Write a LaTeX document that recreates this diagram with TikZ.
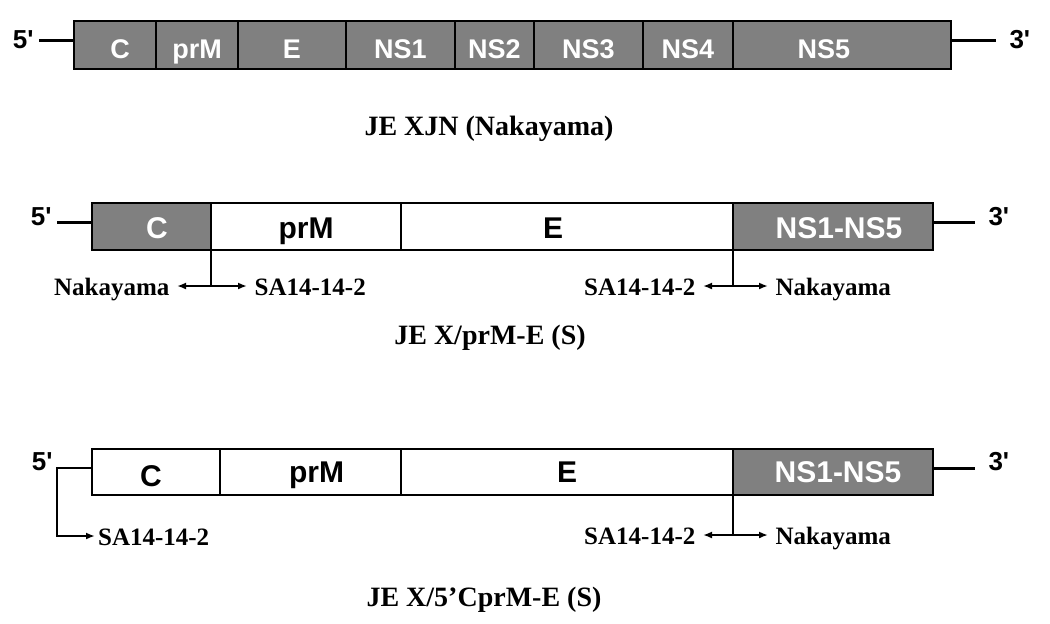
\documentclass[tikz,border=0pt]{standalone}
\usepackage{fontspec}
\setmainfont{Liberation Serif}
\setsansfont{Liberation Sans}
\usetikzlibrary{positioning,arrows.meta}

\begin{document}
\begin{tikzpicture}[x=0.5pt,y=-0.5pt,
    seg/.style={draw,line width=1.2pt,outer sep=0pt,inner sep=0pt,text depth=0pt},
    gen/.style={seg,fill=gray,text=white},
    rep/.style={seg,fill=white,text=black},
    strand/.style={line width=1.5pt},
    tick/.style={line width=1.1pt},
    prime/.style={inner sep=1pt,font=\sffamily\bfseries\fontsize{13}{15}\selectfont},
    swap/.style={line width=1pt,{Latex[length=4.5pt,width=3.5pt]}-{Latex[length=4.5pt,width=3.5pt]}},
    strain/.style={text height=9pt,text depth=0pt,font=\bfseries\fontsize{12.5}{14}\selectfont},
    title/.style={font=\bfseries\fontsize{14}{17}\selectfont}]
    \useasboundingbox (0,0) rectangle (1050,623);

    % JE XJN (Nakayama)
    \begin{scope}[seg/.append style={minimum height=24pt,text height=13pt,
            font=\sffamily\bfseries\fontsize{13.5}{16}\selectfont}]
        \node[gen,minimum width=41pt] (c1) at (115,45) {C\hspace*{-5pt}};
        \node[gen,minimum width=41pt,right=0pt of c1] (prm1) {prM};
        \node[gen,minimum width=54pt,right=0pt of prm1] (e1) {E};
        \node[gen,minimum width=54.5pt,right=0pt of e1] (ns1) {NS1};
        \node[gen,minimum width=39.5pt,right=0pt of ns1] (ns2) {NS2};
        \node[gen,minimum width=54.5pt,right=0pt of ns2] (ns3) {NS3};
        \node[gen,minimum width=45pt,right=0pt of ns3] (ns4) {NS4};
        \node[gen,minimum width=109pt,right=0pt of ns4] (ns5) {\hspace*{-18pt}NS5};
    \end{scope}
    \draw[strand] ([yshift=2.5pt]c1.west) -- ++(-35,0) node[prime,left=1pt] (five1) {5\textquotesingle};
    \draw[strand] ([yshift=2.5pt]ns5.east) -- ++(45,0) node[prime,right=5pt] (three1) {3\textquotesingle};
    \node[title] (t1) at (489,129) {JE XJN (Nakayama)};

    % JE X/prM-E (S)
    \begin{scope}[seg/.append style={minimum height=23.5pt,text height=12pt,
            font=\sffamily\bfseries\fontsize{15}{18}\selectfont}]
        \node[gen,minimum width=59.5pt] (c2) at (151.5,226.5) {C\hspace*{-5.5pt}};
        \node[rep,minimum width=95pt,right=0pt of c2] (prm2) {prM};
        \node[rep,minimum width=166pt,right=0pt of prm2] (e2) {\hspace*{-14pt}E};
        \node[gen,minimum width=100pt,right=0pt of e2] (ns2all) {NS1-NS5\hspace*{-6pt}};
    \end{scope}
    \draw[strand] ([yshift=2pt]c2.west) -- ++(-35,0) node[prime,left=1pt,yshift=3pt] (five2) {5\textquotesingle};
    \draw[strand] ([yshift=2pt]ns2all.east) -- ++(42,0) node[prime,right=5pt,yshift=3pt] (three2) {3\textquotesingle};
    \draw[tick] (c2.south east) -- ([yshift=-18pt]c2.south east) coordinate (j2l);
    \draw[swap] ([xshift=-17pt]j2l) node[strain,left] (nak2l) {Nakayama}
        -- ([xshift=18pt]j2l) node[strain,right] (sa2l) {SA14-14-2};
    \draw[tick] (e2.south east) -- ([yshift=-18pt]e2.south east) coordinate (j2r);
    \draw[swap] ([xshift=-15pt]j2r) node[strain,left] (sa2r) {SA14-14-2}
        -- ([xshift=17.5pt]j2r) node[strain,right] (nak2r) {Nakayama};
    \node[title] (t2) at (490,338) {JE X/prM-E (S)};

    % JE X/5'CprM-E (S)
    \begin{scope}[seg/.append style={minimum height=23pt,text height=10pt,
            font=\sffamily\bfseries\fontsize{15}{18}\selectfont}]
        \node[rep,minimum width=64pt,text height=14pt] (c3) at (156,472) {\hspace*{-5pt}C};
        \node[rep,minimum width=90.5pt,right=0pt of c3] (prm3) {prM\hspace*{-6pt}};
        \node[rep,minimum width=166pt,right=0pt of prm3] (e3) {E};
        \node[gen,minimum width=100pt,right=0pt of e3] (ns3all) {NS1-NS5\hspace*{-5pt}};
    \end{scope}
    \draw[tick,-{Latex[length=4.5pt,width=3.5pt]}] ([yshift=2pt]c3.west) -- ++(-35,0) coordinate (k3)
        |- ++(38,68) node[strain,right=0pt,inner sep=1pt] (sa3l) {SA14-14-2};
    \node[prime,left=1pt,yshift=3pt] (five3) at (k3) {5\textquotesingle};
    \draw[strand] ([yshift=2pt]ns3all.east) -- ++(42,0) node[prime,right=5pt,yshift=3pt] (three3) {3\textquotesingle};
    \draw[tick] (e3.south east) -- ([yshift=-20pt]e3.south east) coordinate (j3r);
    \draw[swap] ([xshift=-15pt]j3r) node[strain,left] (sa3r) {SA14-14-2}
        -- ([xshift=17.5pt]j3r) node[strain,right] (nak3r) {Nakayama};
    \node[title] (t3) at (484,600) {JE X/5'CprM-E (S)};
\end{tikzpicture}
\end{document}
